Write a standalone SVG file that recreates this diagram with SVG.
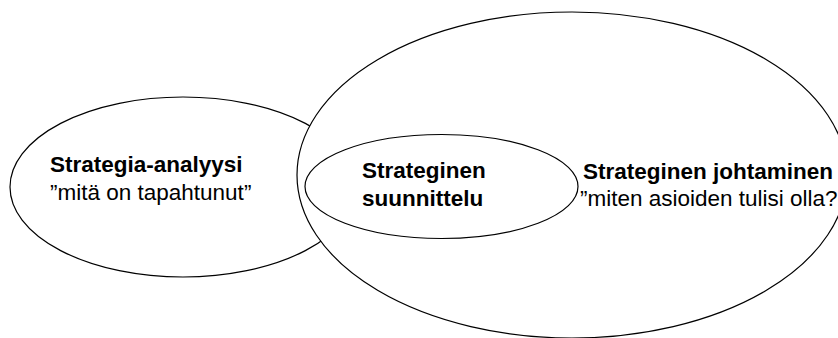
<svg xmlns="http://www.w3.org/2000/svg" width="838" height="338" viewBox="0 0 838 338">
<style>
.sh{fill:#fff;stroke:#000;stroke-width:1.2}
.t{font-family:"Liberation Sans",Arial,sans-serif;font-size:22.5px;fill:#000}
.b{font-weight:bold}
</style>
<rect width="838" height="338" fill="#fff"/>
<g id="analyysi">
<ellipse class="sh" cx="183" cy="187" rx="173" ry="90"/>
<text class="t b" x="50" y="172">Strategia-analyysi</text>
<text class="t" x="50" y="200">”mitä on tapahtunut”</text>
</g>
<g id="johtaminen">
<ellipse class="sh" cx="572" cy="175" rx="275" ry="163"/>
<text class="t b" x="583" y="179">Strateginen johtaminen</text>
<text class="t" x="580" y="206">”miten asioiden tulisi olla?</text>
</g>
<g id="suunnittelu">
<ellipse class="sh" cx="441.5" cy="186.5" rx="136.5" ry="52"/>
<text class="t b" x="362" y="178">Strateginen</text>
<text class="t b" x="362" y="206">suunnittelu</text>
</g>
<g id="connectors"/>
</svg>
